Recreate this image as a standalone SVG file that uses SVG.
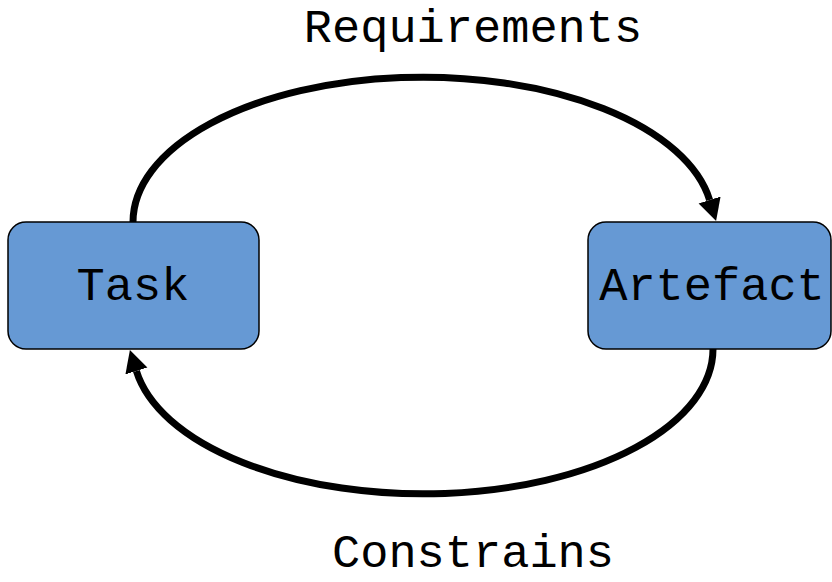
<svg xmlns="http://www.w3.org/2000/svg" width="832" height="582" viewBox="0 0 832 582">
<style>
.box{fill:#6699D4;stroke:#000;stroke-width:1.5}
.lbl{font-family:"Liberation Mono","Courier New",monospace;font-size:47px;fill:#000;text-anchor:middle}
.edge{fill:none;stroke:#000;stroke-width:7}
</style>
<defs>
<marker id="arr" markerUnits="userSpaceOnUse" markerWidth="26" markerHeight="26" viewBox="0 -13 26 26" refX="0" refY="0" orient="auto">
<path d="M0,-11.5 L22,0 L0,11.5 z" fill="#000"/>
</marker>
</defs>
<g id="connectors">
<path class="edge" d="M133,222 A290,145 0 0 1 709.6,200" marker-end="url(#arr)"/>
<path class="edge" d="M713,349 A290,145 0 0 1 136.4,371" marker-end="url(#arr)"/>
<text class="lbl" x="473" y="42">Requirements</text>
<text class="lbl" x="473" y="567">Constrains</text>
</g>
<g id="task">
<rect class="box" x="8" y="222" width="251" height="127" rx="18"/>
<text class="lbl" x="133" y="300">Task</text>
</g>
<g id="artefact">
<rect class="box" x="588" y="222" width="243" height="127" rx="18"/>
<text class="lbl" x="712" y="300">Artefact</text>
</g>
</svg>
